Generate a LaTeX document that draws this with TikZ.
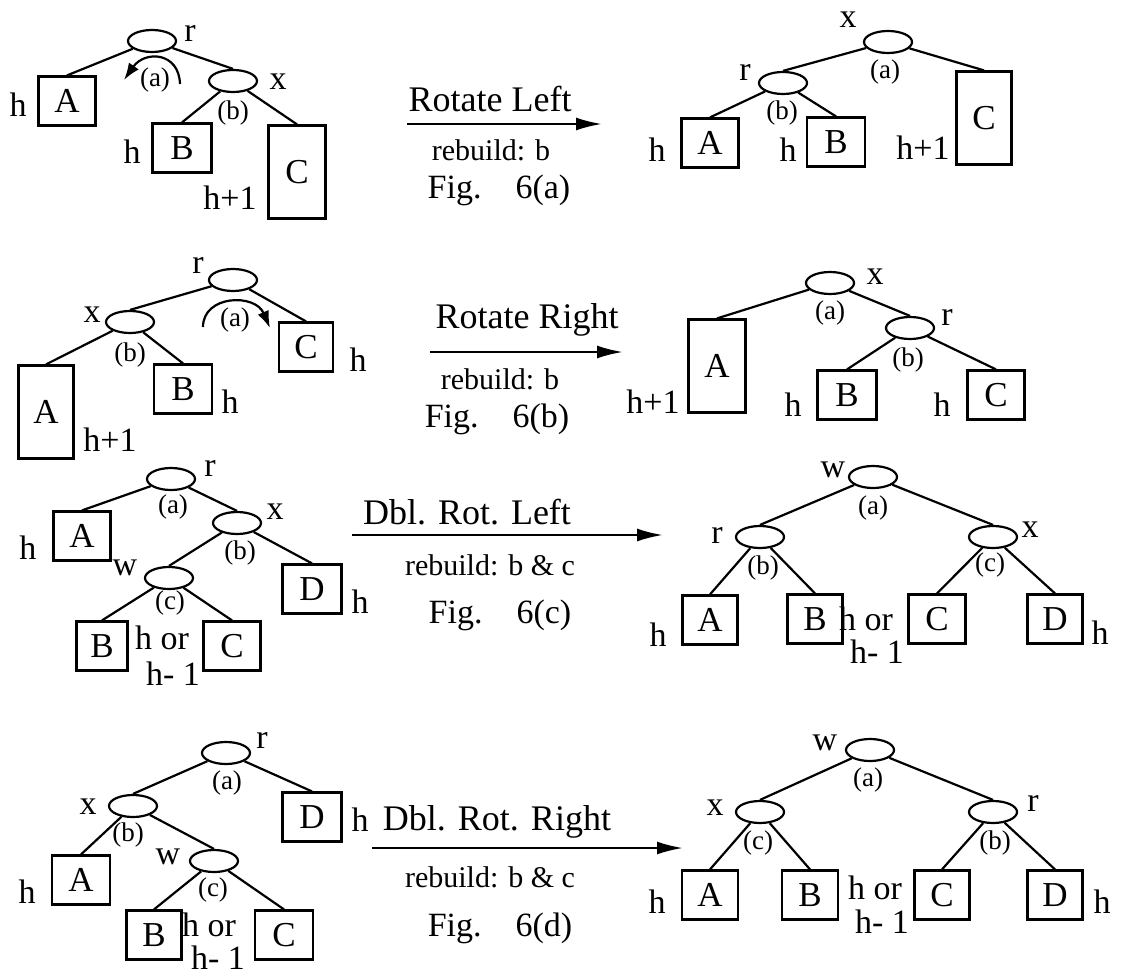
\documentclass[tikz,border=0pt]{standalone}
\usepackage{fontspec}
\setmainfont{Liberation Serif}
\usetikzlibrary{shapes.geometric}
\usetikzlibrary{arrows.meta}

\begin{document}
\begin{tikzpicture}[x=1pt,y=-1pt,line width=2.2pt,
  nd/.style={draw,ellipse,minimum width=48pt,minimum height=22pt,inner sep=0pt},
  sub/.style={draw,minimum width=57pt,minimum height=49pt,inner sep=0pt,font=\fontsize{35}{37}\selectfont},
  tall/.style={sub,minimum height=93pt},
  lab/.style={inner sep=0pt,font=\fontsize{34}{36}\selectfont},
  bal/.style={inner sep=0pt,font=\fontsize{27}{29}\selectfont},
  op/.style={inner sep=0pt,font=\fontsize{36}{38}\selectfont},
  fig/.style={inner sep=0pt,font=\fontsize{34}{36}\selectfont},
  reb/.style={inner sep=0pt,font=\fontsize{30}{32}\selectfont},
  rot/.style={-{Latex[length=26pt,width=13pt]},line width=2.4pt},
  turn/.style={-{Latex[length=17pt,width=12pt]},line width=2.2pt}]
\useasboundingbox (0,0) rectangle (1131,976);

% single rotation left, before
\node[nd] (la-r) at (152,41) {};
\node[lab] (la-rl) at (190,33) {r};
\node[nd] (la-x) at (233,81) {};
\node[lab] (la-xl) at (278,82) {x};
\node[sub] (la-A) at (67,101) {A};
\node[lab] (la-hA) at (18,105) {h};
\node[sub,minimum width=59pt] (la-B) at (182,148) {B};
\node[lab] (la-hB) at (132,152) {h};
\node[tall] (la-C) at (297,172) {C};
\node[lab] (la-hC) at (230,198) {h+1};
\node[bal] (la-a) at (155,80) {(a)};
\node[bal] (la-b) at (233,113) {(b)};
\draw (la-r) -- (la-A.north);
\draw (la-r) -- (la-x.north);
\draw (la-x) -- (la-B.north);
\draw (la-x) -- (la-C.north);
\coordinate (la-t0) at (180,84);
\coordinate (la-t1) at (124,80);
\draw[turn] (la-t0) .. controls (179,52) and (145,50) .. (la-t1);

\coordinate (a-s) at (407,124);
\coordinate (a-e) at (602,124);
\draw[rot] (a-s) -- (a-e);
\node[op] (a-op) at (490,99) {Rotate Left};
\node[reb] (a-rb) at (491,150) {rebuild: b};
\node[fig] (a-fig) at (499,190) {Fig.\quad 6(a)};

% single rotation left, after
\node[nd] (ra-x) at (888,42) {};
\node[lab] (ra-xl) at (848,20) {x};
\node[bal] (ra-a) at (885,72) {(a)};
\node[nd] (ra-r) at (783,83) {};
\node[lab] (ra-rl) at (745,72) {r};
\node[bal] (ra-b) at (782,113) {(b)};
\node[sub] (ra-A) at (710,143) {A};
\node[lab] (ra-hA) at (657,150) {h};
\node[sub,minimum width=58pt] (ra-B) at (836,142) {B};
\node[lab] (ra-hB) at (788,150) {h};
\node[tall,minimum width=55pt] (ra-C) at (984,118) {C};
\node[lab] (ra-hC) at (923,148) {h+1};
\draw (ra-x) -- (ra-r.north);
\draw (ra-x) -- (ra-C.north);
\draw (ra-r) -- (ra-A.north);
\draw (ra-r) -- (ra-B.north);

% single rotation right, before
\node[nd] (lb-r) at (233,280) {};
\node[lab] (lb-rl) at (198,265) {r};
\node[bal] (lb-a) at (235,320) {(a)};
\node[nd] (lb-x) at (130,322) {};
\node[lab] (lb-xl) at (92,315) {x};
\node[bal] (lb-b) at (130,355) {(b)};
\node[sub,minimum width=54pt] (lb-C) at (306,347) {C};
\node[lab] (lb-hC) at (358,360) {h};
\node[tall,minimum width=55pt] (lb-A) at (46,412) {A};
\node[lab] (lb-hA) at (110,440) {h+1};
\node[sub,minimum width=58pt] (lb-B) at (183,389) {B};
\node[lab] (lb-hB) at (230,402) {h};
\draw (lb-r) -- (lb-x.north);
\draw (lb-r) -- (lb-C.north);
\draw (lb-x) -- (lb-A.north);
\draw (lb-x) -- (lb-B.north);
\coordinate (lb-t0) at (203,327);
\coordinate (lb-t1) at (270,328);
\draw[turn] (lb-t0) .. controls (203,295) and (255,293) .. (lb-t1);

\coordinate (b-s) at (430,352);
\coordinate (b-e) at (623,352);
\draw[rot] (b-s) -- (b-e);
\node[op] (b-op) at (527,320) {Rotate Right};
\node[reb] (b-rb) at (500,379) {rebuild: b};
\node[fig] (b-fig) at (497,419) {Fig.\quad 6(b)};

% single rotation right, after
\node[nd] (rb-x) at (830,283) {};
\node[lab] (rb-xl) at (875,277) {x};
\node[bal] (rb-a) at (830,313) {(a)};
\node[nd] (rb-r) at (910,328) {};
\node[lab] (rb-rl) at (947,317) {r};
\node[bal] (rb-b) at (908,360) {(b)};
\node[tall] (rb-A) at (717,366) {A};
\node[lab] (rb-hA) at (653,402) {h+1};
\node[sub,minimum width=59pt] (rb-B) at (847,395) {B};
\node[lab] (rb-hB) at (793,405) {h};
\node[sub] (rb-C) at (996,395) {C};
\node[lab] (rb-hC) at (942,405) {h};
\draw (rb-x) -- (rb-A.north);
\draw (rb-x) -- (rb-r.north);
\draw (rb-r) -- (rb-B.north);
\draw (rb-r) -- (rb-C.north);

% double rotation left, before
\node[nd] (lc-r) at (171,479) {};
\node[lab] (lc-rl) at (210,468) {r};
\node[bal] (lc-a) at (173,507) {(a)};
\node[sub] (lc-A) at (82,536) {A};
\node[lab] (lc-hA) at (28,548) {h};
\node[nd] (lc-x) at (237,523) {};
\node[lab] (lc-xl) at (275,512) {x};
\node[bal] (lc-b) at (240,553) {(b)};
\node[nd] (lc-w) at (169,578) {};
\node[lab] (lc-wl) at (125,568) {w};
\node[bal] (lc-c) at (170,603) {(c)};
\node[sub,minimum width=59pt] (lc-D) at (312,589) {D};
\node[lab] (lc-hD) at (360,602) {h};
\node[sub,minimum width=51pt] (lc-B) at (102,646) {B};
\node[sub] (lc-C) at (232,646) {C};
\node[lab] (lc-h1) at (162,638) {h or};
\node[lab] (lc-h2) at (173,674) {h- 1};
\draw (lc-r) -- (lc-A.north);
\draw (lc-r) -- (lc-x.north);
\draw (lc-x) -- (lc-w.north);
\draw (lc-x) -- (lc-D.north);
\draw (lc-w) -- (lc-B.north);
\draw (lc-w) -- (lc-C.north);

\coordinate (c-s) at (352,535);
\coordinate (c-e) at (663,535);
\draw[rot] (c-s) -- (c-e);
\node[op] (c-op) at (467,512) {Dbl. Rot. Left};
\node[reb] (c-rb) at (490,565) {rebuild: b \& c};
\node[fig] (c-fig) at (500,615) {Fig.\quad 6(c)};

% double rotation left, after
\node[nd] (rc-w) at (873,477) {};
\node[lab] (rc-wl) at (833,470) {w};
\node[bal] (rc-a) at (873,508) {(a)};
\node[nd] (rc-r) at (760,537) {};
\node[lab] (rc-rl) at (717,535) {r};
\node[bal] (rc-b) at (763,568) {(b)};
\node[nd] (rc-x) at (993,537) {};
\node[lab] (rc-xl) at (1030,530) {x};
\node[bal] (rc-c) at (990,565) {(c)};
\node[sub,minimum width=55pt] (rc-A) at (710,620) {A};
\node[lab] (rc-hA) at (658,635) {h};
\node[sub,minimum width=55pt] (rc-B) at (815,619) {B};
\node[lab] (rc-h1) at (866,619) {h or};
\node[lab] (rc-h2) at (877,652) {h- 1};
\node[sub] (rc-C) at (937,619) {C};
\node[sub,minimum width=55pt] (rc-D) at (1055,619) {D};
\node[lab] (rc-hD) at (1100,633) {h};
\draw (rc-w) -- (rc-r.north);
\draw (rc-w) -- (rc-x.north);
\draw (rc-r) -- (rc-A.north);
\draw (rc-r) -- (rc-B.north);
\draw (rc-x) -- (rc-C.north);
\draw (rc-x) -- (rc-D.north);

% double rotation right, before
\node[nd] (ld-r) at (226,753) {};
\node[lab] (ld-rl) at (262,740) {r};
\node[bal] (ld-a) at (227,783) {(a)};
\node[sub,minimum width=59pt] (ld-D) at (312,817) {D};
\node[lab] (ld-hD) at (360,820) {h};
\node[nd] (ld-x) at (133,806) {};
\node[lab] (ld-xl) at (88,807) {x};
\node[bal] (ld-b) at (128,835) {(b)};
\node[sub,minimum width=58pt] (ld-A) at (81,880) {A};
\node[lab] (ld-hA) at (27,892) {h};
\node[nd] (ld-w) at (214,861) {};
\node[lab] (ld-wl) at (168,857) {w};
\node[bal] (ld-c) at (213,890) {(c)};
\node[sub,minimum width=55pt] (ld-B) at (154,935) {B};
\node[sub,minimum width=58pt] (ld-C) at (284,935) {C};
\node[lab] (ld-h1) at (209,925) {h or};
\node[lab] (ld-h2) at (218,958) {h- 1};
\draw (ld-r) -- (ld-x.north);
\draw (ld-r) -- (ld-D.north);
\draw (ld-x) -- (ld-A.north);
\draw (ld-x) -- (ld-w.north);
\draw (ld-w) -- (ld-B.north);
\draw (ld-w) -- (ld-C.north);

\coordinate (d-s) at (372,848);
\coordinate (d-e) at (683,848);
\draw[rot] (d-s) -- (d-e);
\node[op] (d-op) at (497,822) {Dbl. Rot. Right};
\node[reb] (d-rb) at (490,877) {rebuild: b \& c};
\node[fig] (d-fig) at (500,928) {Fig.\quad 6(d)};

% double rotation right, after
\node[nd] (rd-w) at (870,750) {};
\node[lab] (rd-wl) at (825,743) {w};
\node[bal] (rd-a) at (868,780) {(a)};
\node[nd] (rd-x) at (760,812) {};
\node[lab] (rd-xl) at (715,808) {x};
\node[bal] (rd-c) at (758,843) {(c)};
\node[nd] (rd-r) at (993,812) {};
\node[lab] (rd-rl) at (1033,803) {r};
\node[bal] (rd-b) at (995,843) {(b)};
\node[sub,minimum width=56pt] (rd-A) at (710,895) {A};
\node[lab] (rd-hA) at (657,902) {h};
\node[sub,minimum width=56pt] (rd-B) at (810,895) {B};
\node[lab] (rd-h1) at (875,888) {h or};
\node[lab] (rd-h2) at (882,922) {h- 1};
\node[sub,minimum width=55pt] (rd-C) at (942,895) {C};
\node[sub,minimum width=55pt] (rd-D) at (1055,895) {D};
\node[lab] (rd-hD) at (1102,902) {h};
\draw (rd-w) -- (rd-x.north);
\draw (rd-w) -- (rd-r.north);
\draw (rd-x) -- (rd-A.north);
\draw (rd-x) -- (rd-B.north);
\draw (rd-r) -- (rd-C.north);
\draw (rd-r) -- (rd-D.north);
\end{tikzpicture}
\end{document}
